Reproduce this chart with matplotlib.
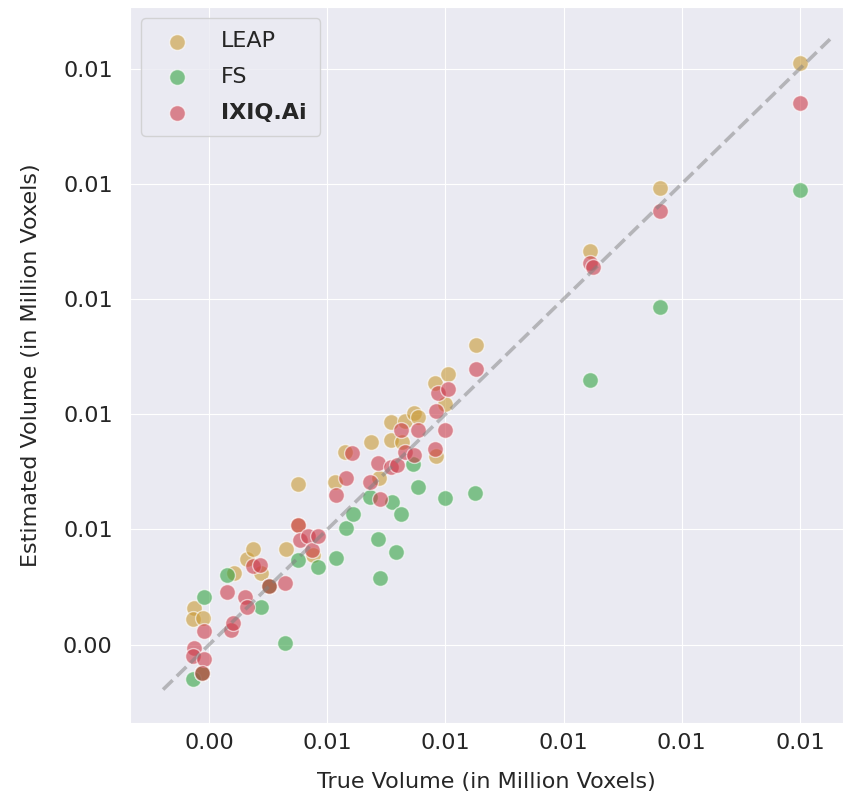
import matplotlib
matplotlib.use("Agg")
import matplotlib.pyplot as plt
import seaborn as sns
from matplotlib.ticker import FormatStrFormatter

# true vs. estimated volume, one list pair per method
leap_true = [0.00375, 0.00373, 0.00390, 0.00388, 0.00442, 0.00464, 0.00475, 0.00488,
             0.00502, 0.00530, 0.00551, 0.00551, 0.00575, 0.00613, 0.00630, 0.00674,
             0.00688, 0.00708, 0.00708, 0.00726, 0.00732, 0.00746, 0.00754, 0.00782,
             0.00784, 0.00800, 0.00804, 0.00851, 0.01045, 0.01164, 0.01400]
leap_est = [0.00463, 0.00444, 0.00447, 0.00351, 0.00524, 0.00548, 0.00566, 0.00524,
            0.00502, 0.00566, 0.00679, 0.00607, 0.00555, 0.00683, 0.00735, 0.00752,
            0.00689, 0.00786, 0.00755, 0.00751, 0.00789, 0.00802, 0.00795, 0.00855,
            0.00727, 0.00818, 0.00870, 0.00920, 0.01084, 0.01192, 0.01409]

fs_true = [0.00373, 0.00392, 0.00430, 0.00488, 0.00529, 0.00551, 0.00584, 0.00615,
           0.00632, 0.00643, 0.00672, 0.00686, 0.00689, 0.00709, 0.00716, 0.00725,
           0.00745, 0.00753, 0.00799, 0.00850, 0.01045, 0.01164, 0.01400, 0.00502,
           0.00388]
fs_est = [0.00341, 0.00482, 0.00521, 0.00465, 0.00403, 0.00547, 0.00534, 0.00551,
          0.00602, 0.00627, 0.00657, 0.00583, 0.00515, 0.00648, 0.00560, 0.00627,
          0.00713, 0.00674, 0.00654, 0.00663, 0.00859, 0.00986, 0.01189, 0.00502,
          0.00351]

ixiq_true = [0.00375, 0.00373, 0.00392, 0.00388, 0.00392, 0.00430, 0.00437, 0.00441,
             0.00461, 0.00464, 0.00475, 0.00486, 0.00502, 0.00529, 0.00551, 0.00554,
             0.00568, 0.00574, 0.00585, 0.00615, 0.00632, 0.00642, 0.00672, 0.00686,
             0.00689, 0.00707, 0.00718, 0.00725, 0.00732, 0.00746, 0.00753, 0.00782,
             0.00784, 0.00788, 0.00799, 0.00804, 0.00851, 0.01045, 0.01050, 0.01164,
             0.01400]
ixiq_est = [0.00394, 0.00380, 0.00375, 0.00351, 0.00423, 0.00491, 0.00426, 0.00437,
            0.00482, 0.00466, 0.00536, 0.00538, 0.00502, 0.00507, 0.00607, 0.00581,
            0.00588, 0.00565, 0.00588, 0.00660, 0.00690, 0.00732, 0.00682, 0.00715,
            0.00653, 0.00709, 0.00712, 0.00773, 0.00734, 0.00730, 0.00773, 0.00739,
            0.00805, 0.00836, 0.00772, 0.00844, 0.00879, 0.01062, 0.01056, 0.01153,
            0.01341]

diag_range = [0.00322, 0.01451]
tick_vals = [0.004, 0.006, 0.008, 0.010, 0.012, 0.014]

sns.set_style("darkgrid")

fig = plt.figure(figsize=(8.43, 8), dpi=100)
ax = fig.add_axes([0.1542, 0.0963, 0.8458, 0.895])

kw = dict(s=130, alpha=0.6, edgecolor="white", linewidth=1)
ax.scatter(leap_true, leap_est, color="#c99a35", label="LEAP", **kw)
ax.scatter(fs_true, fs_est, color="#35a444", label="FS", **kw)
ax.scatter(ixiq_true, ixiq_est, color="#cc3d4a", label="IXIQ.Ai", **kw)

ax.plot(diag_range, diag_range, "--", color="gray", alpha=0.5, lw=2.6)

ax.set_xlim(0.00266, 0.01473)
ax.set_ylim(0.00264, 0.01507)
ax.set_xticks(tick_vals)
ax.set_yticks(tick_vals)
ax.xaxis.set_major_formatter(FormatStrFormatter("%.2f"))
ax.yaxis.set_major_formatter(FormatStrFormatter("%.2f"))
ax.tick_params(labelsize=16, colors="#262626")
ax.tick_params(axis="y", pad=9)

ax.set_xlabel("True Volume (in Million Voxels)", fontsize=16, color="#262626",
              labelpad=14)
ax.set_ylabel("Estimated Volume (in Million Voxels)", fontsize=16, color="#262626",
              labelpad=16)

leg = ax.legend(loc="upper left", fontsize=16, borderpad=0.6,
                labelspacing=0.7, handletextpad=1.0, frameon=True)
leg.get_texts()[2].set_fontweight("bold")

fig.savefig("out.png", dpi=100)
